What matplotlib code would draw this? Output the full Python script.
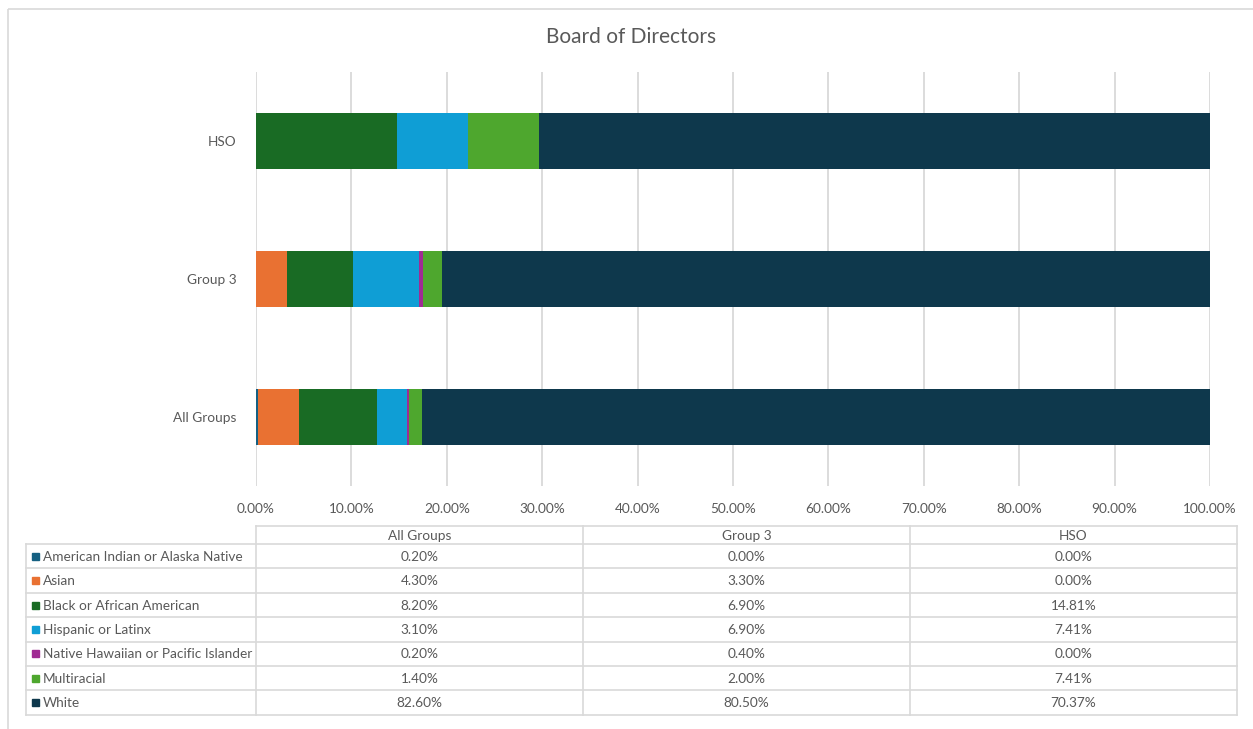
import matplotlib.pyplot as plt
from matplotlib.patches import Rectangle
from matplotlib.ticker import FuncFormatter

plt.rcParams['font.family'] = ['Lato', 'DejaVu Sans']

groups = ["All Groups", "Group 3", "HSO"]
races = ["American Indian or Alaska Native", "Asian", "Black or African American",
         "Hispanic or Latinx", "Native Hawaiian or Pacific Islander", "Multiracial", "White"]
colors = ["#156082", "#E97132", "#196B24", "#0F9ED5", "#A02B93", "#4EA72E", "#0E384C"]
all_groups = [0.20, 4.30, 8.20, 3.10, 0.20, 1.40, 82.60]
group3 = [0.00, 3.30, 6.90, 6.90, 0.40, 2.00, 80.50]
hso = [0.00, 0.00, 14.81, 7.41, 0.00, 7.41, 70.37]
values = [all_groups, group3, hso]

W, H = 1253, 729
TXT = "#595959"
GRID = "#d9d9d9"
FS = 9.8

fig = plt.figure(figsize=(W / 100, H / 100), dpi=100)

def px(x0, y0, x1, y1):
    return [x0 / W, 1 - y1 / H, (x1 - x0) / W, (y1 - y0) / H]

ax = fig.add_axes(px(256, 72, 1210, 486))
left = [0.0] * len(groups)
for i, race in enumerate(races):
    seg = [values[g][i] / 100 for g in range(len(groups))]
    ax.barh(range(len(groups)), seg, left=left, height=0.4, color=colors[i], label=race)
    left = [l + s for l, s in zip(left, seg)]

ax.set_xlim(0, 1)
ax.set_ylim(-0.5, len(groups) - 0.5)
ax.set_xticks([i / 10 for i in range(11)])
ax.xaxis.set_major_formatter(FuncFormatter(lambda v, p: f"{v * 100:.2f}%"))
ax.set_yticks(range(len(groups)))
ax.set_yticklabels(groups)
ax.tick_params(axis='both', length=0, labelsize=FS, labelcolor=TXT)
ax.tick_params(axis='y', pad=14)
ax.tick_params(axis='x', pad=12)
ax.grid(axis='x', color=GRID, linewidth=1.3)
ax.set_axisbelow(True)
for s in ax.spines.values():
    s.set_visible(False)

# overlay in pixel coordinates for title, data table and border
ov = fig.add_axes([0, 0, 1, 1], zorder=-1)
ov.set_xlim(0, W)
ov.set_ylim(H, 0)
ov.axis('off')
ov.add_patch(Rectangle((8, 9), W, H, fill=False, edgecolor=GRID, linewidth=1.2))
ov.text(631, 37, "Board of Directors", ha='center', va='center', fontsize=15, color=TXT)

col_x = [26, 256, 583, 910, 1237]
row_y = [526, 544] + [544 + 24.4 * (k + 1) for k in range(len(races))]
lw = 1.2
# header row (value columns only)
ov.plot([col_x[1], col_x[-1]], [row_y[0], row_y[0]], color=GRID, lw=lw)
for r in row_y[1:]:
    ov.plot([col_x[0], col_x[-1]], [r, r], color=GRID, lw=lw)
ov.plot([col_x[0], col_x[0]], [row_y[1], row_y[-1]], color=GRID, lw=lw)
for c in col_x[1:]:
    ov.plot([c, c], [row_y[0], row_y[-1]], color=GRID, lw=lw)

for g, name in enumerate(groups):
    cx = (col_x[g + 1] + col_x[g + 2]) / 2
    ov.text(cx, (row_y[0] + row_y[1]) / 2 + 0.5, name, ha='center', va='center', fontsize=FS, color=TXT)
    for i in range(len(races)):
        cy = (row_y[i + 1] + row_y[i + 2]) / 2 + 0.5
        ov.text(cx, cy, f"{values[g][i]:.2f}%", ha='center', va='center', fontsize=FS, color=TXT)

for i, race in enumerate(races):
    cy = (row_y[i + 1] + row_y[i + 2]) / 2
    ov.add_patch(Rectangle((31.5, cy - 3.5), 7, 7, color=colors[i]))
    ov.text(43, cy + 0.5, race, ha='left', va='center', fontsize=FS, color=TXT)

fig.savefig("out.png", dpi=100)
